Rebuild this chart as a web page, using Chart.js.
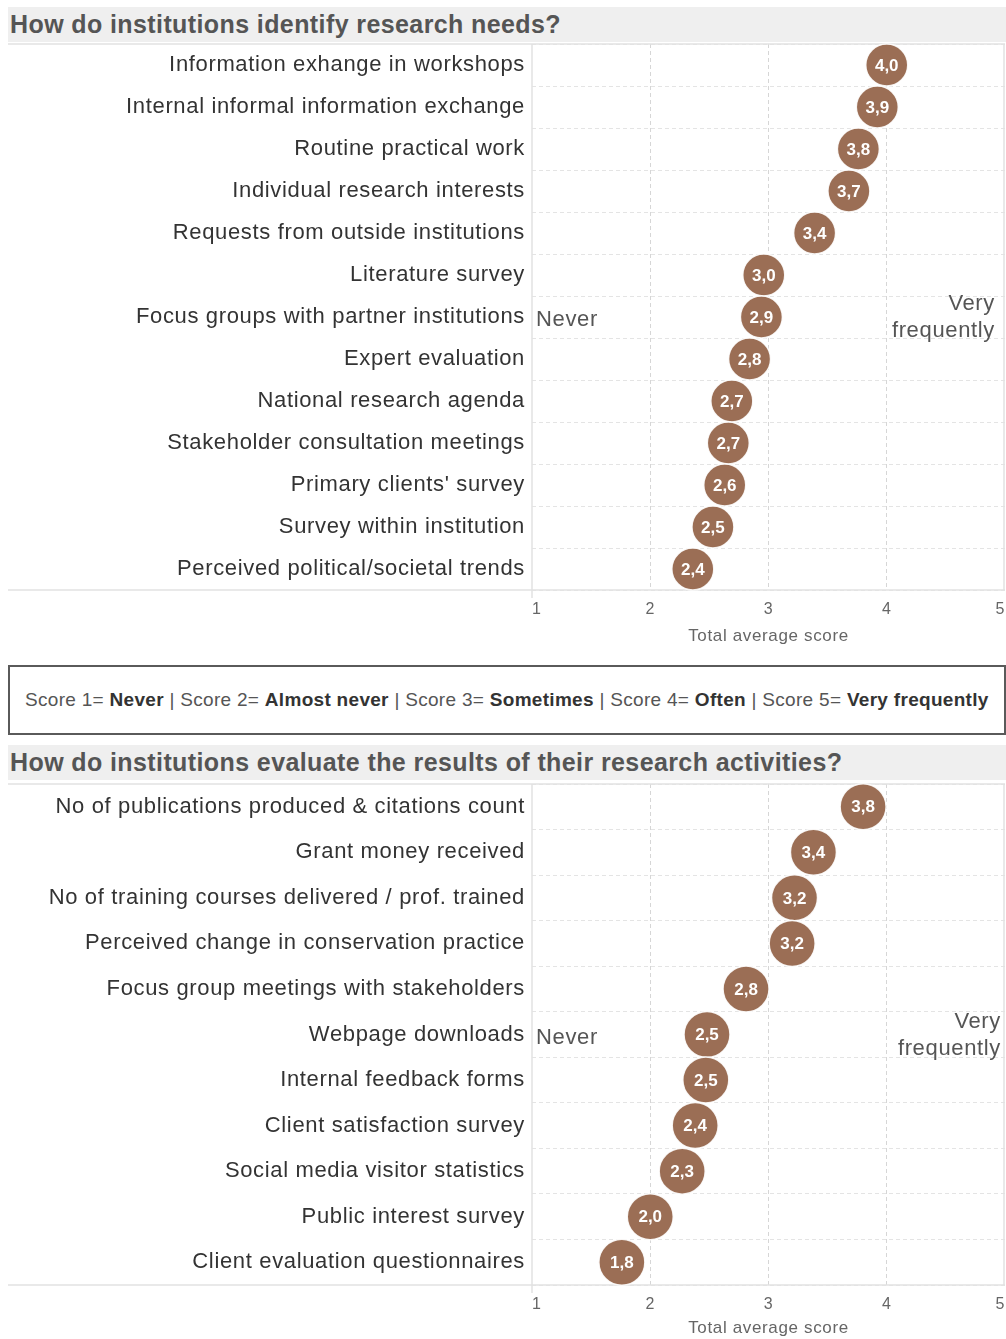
<!DOCTYPE html>
<html>
<head>
<meta charset="utf-8">
<script src="https://cdn.jsdelivr.net/npm/chart.js@4"></script>
<style>
  body { margin: 0; background: #fff; font-family: "Liberation Sans", Arial, sans-serif; }
  #page { position: relative; width: 1006px; height: 1339px; overflow: hidden; }
  .band { position: absolute; left: 8px; width: 998px; height: 35px; background: #efefef;
          color: #555; font-weight: bold; font-size: 25px; letter-spacing: 0.4px; line-height: 34px;
          padding-left: 2px; box-sizing: border-box; white-space: nowrap; }
  .box { position: absolute; left: 0; width: 1006px; }
  .legend { position: absolute; left: 8px; top: 665px; width: 998px; height: 70px; box-sizing: border-box;
            border: 2px solid #5a5a5a; color: #555; font-size: 19px; letter-spacing: 0.3px; line-height: 66px;
            padding-left: 15px; white-space: nowrap; }
  .legend b { color: #333; }
</style>
</head>
<body>
<div id="page">
  <div class="band" style="top:7px">How do institutions identify research needs?</div>
  <div class="box" style="top:42px;height:610px"><canvas id="needs"></canvas></div>
  <div class="legend">Score 1= <b>Never</b> | Score 2= <b>Almost never</b> | Score 3= <b>Sometimes</b> | Score 4= <b>Often</b> | Score 5= <b>Very frequently</b></div>
  <div class="band" style="top:745px">How do institutions evaluate the results of their research activities?</div>
  <div class="box" style="top:780px;height:563px"><canvas id="results"></canvas></div>
</div>
<script>
// first chart: how research needs are identified
const needsLabels = [
  "Information exhange in workshops",
  "Internal informal information exchange",
  "Routine practical work",
  "Individual research interests",
  "Requests from outside institutions",
  "Literature survey",
  "Focus groups with partner institutions",
  "Expert evaluation",
  "National research agenda",
  "Stakeholder consultation meetings",
  "Primary clients' survey",
  "Survey within institution",
  "Perceived political/societal trends"
];
const needsScores = [4.0, 3.92, 3.76, 3.68, 3.39, 2.96, 2.94, 2.84, 2.69, 2.66, 2.63, 2.53, 2.36];

// second chart: how results are evaluated
const resultsLabels = [
  "No of publications produced & citations count",
  "Grant money received",
  "No of training courses delivered / prof. trained",
  "Perceived change in conservation practice",
  "Focus group meetings with stakeholders",
  "Webpage downloads",
  "Internal feedback forms",
  "Client satisfaction survey",
  "Social media visitor statistics",
  "Public interest survey",
  "Client evaluation questionnaires"
];
const resultsScores = [3.8, 3.38, 3.22, 3.2, 2.81, 2.48, 2.47, 2.38, 2.27, 2.0, 1.76];

const scoreTicks = [1, 2, 3, 4, 5];

Chart.defaults.font.family = '"Liberation Sans", Arial, sans-serif';
Chart.defaults.animation = false;

const brown = "#9b6e55";

// the reference text is set a little wider than Liberation Sans
const spacing = {
  id: "spacing",
  beforeDraw(chart) { chart.ctx.letterSpacing = "0.65px"; }
};

// frame lines, "Never" / "Very frequently" notes
const frame = {
  id: "frame",
  beforeDatasetsDraw(chart, args, opts) {
    const { ctx, chartArea: a } = chart;
    ctx.save();
    ctx.strokeStyle = "#e2e2e2";
    ctx.lineWidth = 1.5;
    ctx.beginPath();
    ctx.moveTo(8, a.top); ctx.lineTo(a.right, a.top);
    ctx.moveTo(8, a.bottom); ctx.lineTo(a.right, a.bottom);
    ctx.moveTo(a.left, a.top); ctx.lineTo(a.left, a.bottom + 8);
    ctx.moveTo(a.right - 1, a.top); ctx.lineTo(a.right - 1, a.bottom);
    ctx.stroke();

    const mid = (a.top + a.bottom) / 2;
    ctx.fillStyle = "#555";
    ctx.font = '22px "Liberation Sans", Arial, sans-serif';
    ctx.textBaseline = "middle";
    ctx.textAlign = "left";
    ctx.fillText("Never", a.left + 4, mid + 3);
    ctx.textAlign = "right";
    ctx.fillText("Very", a.right - opts.right, mid - 13);
    ctx.fillText("frequently", a.right - opts.right, mid + 14);
    ctx.restore();
  }
};

const bubbleLabels = {
  id: "bubbleLabels",
  afterDatasetsDraw(chart) {
    const ctx = chart.ctx;
    const vals = chart.data.datasets[0].data;
    ctx.save();
    ctx.letterSpacing = "0px";
    ctx.fillStyle = "#fff";
    ctx.font = 'bold 17px "Liberation Sans", Arial, sans-serif';
    ctx.textAlign = "center";
    ctx.textBaseline = "middle";
    chart.getDatasetMeta(0).data.forEach((pt, i) => {
      ctx.fillText(vals[i].toFixed(1).replace(".", ","), pt.x, pt.y + 1);
    });
    ctx.restore();
  }
};

function makeChart(id, labels, scores, o) {
  return new Chart(id, {
    type: "line",
    data: {
      labels: labels,
      datasets: [{
        data: scores,
        showLine: false,
        clip: false,
        pointRadius: o.radius,
        pointHoverRadius: o.radius,
        pointBackgroundColor: brown,
        pointBorderColor: "rgba(255,255,255,0.9)",
        pointBorderWidth: 1.5
      }]
    },
    options: {
      indexAxis: "y",
      responsive: true,
      maintainAspectRatio: false,
      layout: { autoPadding: false, padding: { left: 0, right: 1, top: o.top, bottom: 0 } },
      plugins: {
        legend: { display: false },
        tooltip: { enabled: false },
        frame: { right: o.noteRight }
      },
      scales: {
        y: {
          type: "category",
          offset: true,
          afterFit: (s) => { s.width = 532; s.paddingTop = 0; s.paddingBottom = 0; },
          grid: { offset: true, drawTicks: false, color: "#e4e4e4", lineWidth: 1 },
          border: { display: false, dash: [4, 3] },
          ticks: { color: "#333", font: { size: 22 }, padding: 7 }
        },
        x: {
          type: "linear",
          min: 1,
          max: 5,
          afterFit: (s) => { s.height = o.xHeight; s.paddingLeft = 0; s.paddingRight = 0; },
          afterBuildTicks: (s) => { s.ticks = scoreTicks.map(v => ({ value: v })); },
          grid: {
            drawTicks: false,
            color: (c) => (c.tick && c.tick.value > 1 && c.tick.value < 5) ? "#d6d6d6" : "rgba(0,0,0,0)"
          },
          border: { display: false, dash: [4, 3] },
          ticks: { color: "#666", font: { size: 16 }, padding: 10, align: "inner" },
          title: {
            display: true,
            text: "Total average score",
            color: "#666",
            font: { size: 17 },
            padding: { top: 0, bottom: o.titlePad }
          }
        }
      }
    },
    plugins: [spacing, frame, bubbleLabels]
  });
}

makeChart("needs", needsLabels, needsScores, { radius: 21, top: 2, xHeight: 62, titlePad: 5, noteRight: 10 });
makeChart("results", resultsLabels, resultsScores, { radius: 23, top: 4, xHeight: 58, titlePad: 4, noteRight: 4 });
</script>
</body>
</html>
